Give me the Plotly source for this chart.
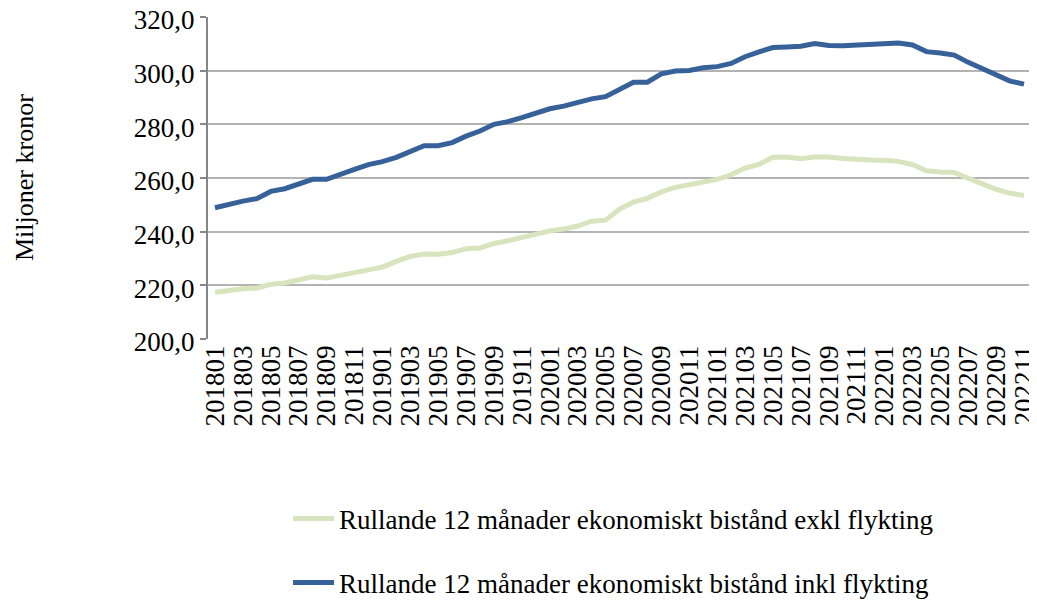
import plotly.graph_objects as go

months = [f"{y}{m:02d}" for y in range(2018, 2023) for m in range(1, 13)][:59]

exkl = [217.4, 218.1, 218.7, 219.0, 220.4, 220.9, 222.0, 223.2, 222.7, 223.7,
        224.7, 225.8, 226.8, 228.9, 230.8, 231.7, 231.6, 232.2, 233.6, 233.9,
        235.6, 236.6, 237.9, 239.2, 240.3, 241.0, 242.1, 243.9, 244.3, 248.4,
        251.0, 252.4, 254.8, 256.5, 257.5, 258.5, 259.5, 261.2, 263.7, 265.1,
        267.7, 267.8, 267.2, 267.8, 267.8, 267.3, 266.9, 266.7, 266.6, 266.2,
        265.0, 262.7, 262.2, 262.1, 259.9, 257.9, 255.8, 254.3, 253.5]

inkl = [248.9, 250.3, 251.4, 252.3, 255.0, 256.0, 257.8, 259.5, 259.5, 261.6,
        263.2, 265.0, 266.1, 267.7, 270.0, 272.0, 272.0, 273.2, 275.6, 277.5,
        280.0, 281.0, 282.5, 284.1, 285.8, 286.8, 288.3, 289.5, 290.3, 293.2,
        295.7, 295.7, 298.8, 299.9, 300.1, 301.1, 301.5, 302.7, 305.2, 307.0,
        308.6, 308.8, 309.1, 310.1, 309.4, 309.3, 309.6, 309.7, 310.1, 310.3,
        309.6, 307.1, 306.6, 305.8, 303.1, 300.7, 298.0, 296.1, 295.0]

names = ["Rullande 12 månader ekonomiskt bistånd exkl flykting",
         "Rullande 12 månader ekonomiskt bistånd inkl flykting"]
colors = ["#d7e4bd", "#376199"]

tick_labels = months[::2]
y_ticks = [200, 220, 240, 260, 280, 300, 320]

FONT = "Liberation Serif, Times New Roman, serif"
FS = 27

# page body has an 8px margin; work in window pixels and convert
OFF = 8
W, H = 1037, 601
L, T = 208 - OFF, 17 - OFF
R = W - (1031 - OFF)
B = H - (339 - OFF)
pw, ph = W - L - R, H - T - B


def px_to_paper_x(px):
    return (px - OFF - L) / pw


def px_to_paper_y(py):
    return (H - B - (py - OFF)) / ph


fig = go.Figure()
fig.add_trace(go.Scatter(x=months, y=exkl, mode="lines", name=names[0],
                         line=dict(color=colors[0], width=5), legend="legend"))
fig.add_trace(go.Scatter(x=months, y=inkl, mode="lines", name=names[1],
                         line=dict(color=colors[1], width=5), legend="legend2"))

leg_common = dict(xanchor="left", yanchor="middle", font=dict(size=FS, family=FONT),
                  bgcolor="rgba(0,0,0,0)", borderwidth=0, itemwidth=41)

fig.update_layout(
    width=W, height=H,
    margin=dict(l=L, r=R, t=T, b=B, autoexpand=False),
    paper_bgcolor="white", plot_bgcolor="white",
    font=dict(family=FONT, size=FS, color="#000000"),
    separators=", ",
    showlegend=True,
    legend=dict(x=px_to_paper_x(288), y=px_to_paper_y(519), **leg_common),
    legend2=dict(x=px_to_paper_x(288), y=px_to_paper_y(583), **leg_common),
    xaxis=dict(type="category", categoryorder="array", categoryarray=months,
               range=[-0.5, len(months) - 0.5],
               tickmode="array", tickvals=tick_labels, ticktext=tick_labels,
               tickangle=-90, tickfont=dict(size=FS, family=FONT),
               ticklabeloverflow="allow",
               showgrid=False, showline=False, zeroline=False,
               ticks="", ticklen=0),
    yaxis=dict(range=[200, 320], tickmode="array",
               tickvals=y_ticks, tickformat=".1f",
               ticklabeloverflow="allow", ticklabelshift=3,
               showgrid=True, gridcolor="#b3b3b3", gridwidth=2,
               showline=True, linecolor="#868686", linewidth=2,
               ticks="outside", ticklen=6, tickcolor="#868686", tickwidth=2,
               tickfont=dict(size=FS, family=FONT), zeroline=False),
    annotations=[dict(text="Miljoner kronor", xref="paper", yref="paper",
                      x=px_to_paper_x(24), y=0.5, textangle=-90, showarrow=False,
                      font=dict(size=26, family=FONT, color="#000000"),
                      xanchor="center", yanchor="middle")],
)

fig.write_html("out.html")
